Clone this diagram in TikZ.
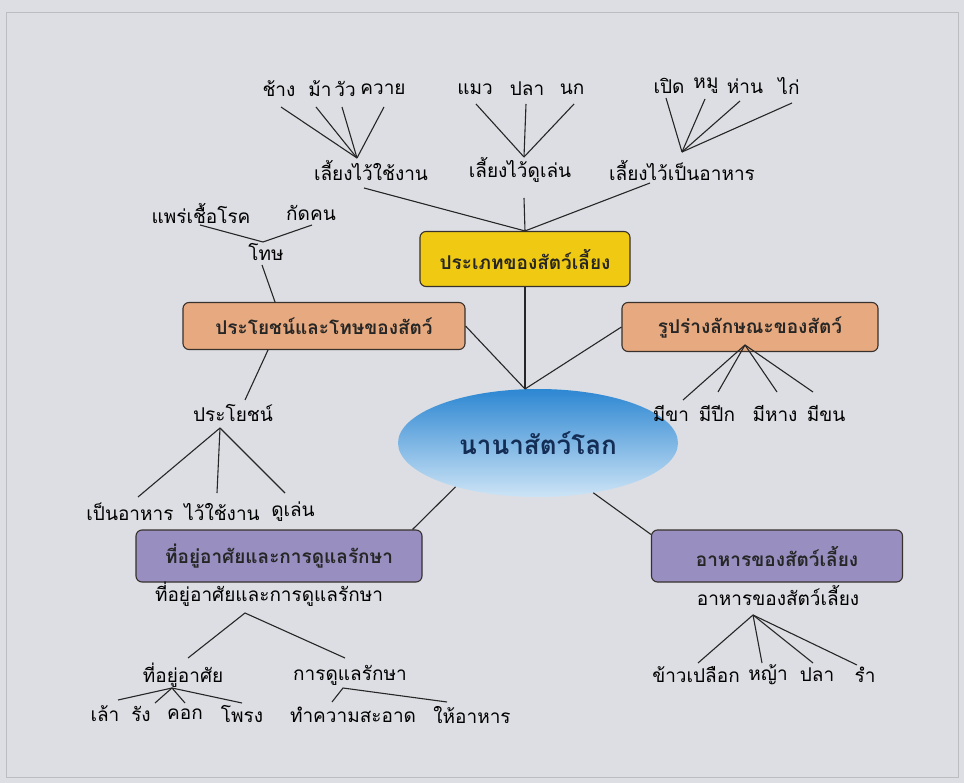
\documentclass[tikz,border=0pt]{standalone}
\usepackage{fontspec}
\newfontfamily\thai[Script=Thai]{Loma}
\usetikzlibrary{shapes.geometric,calc}
\definecolor{paper}{RGB}{221,222,227}
\definecolor{boxline}{RGB}{55,48,45}
\definecolor{gold}{RGB}{240,202,18}
\definecolor{peach}{RGB}{231,170,128}
\definecolor{lilac}{RGB}{152,143,192}
\definecolor{sky}{RGB}{45,135,210}
\definecolor{skylight}{RGB}{205,228,246}
\definecolor{navy}{RGB}{20,45,85}

\begin{document}
\begin{tikzpicture}[x=1pt,y=-1pt,
  font=\thai\fontsize{19}{22}\selectfont,
  every node/.style={inner sep=1pt},
  topic/.style={draw=boxline, rounded corners=6pt, line width=1.1pt,
    font=\thai\bfseries\fontsize{19}{22}\selectfont, text=black!85},
  link/.style={line width=1.1pt, black!85}]
  \fill[paper] (0,0) rectangle (964,783);
  \draw[paper!85!black, line width=0.6pt] (6,12) rectangle (958,777);

  % centre
  \node[ellipse, minimum width=280pt, minimum height=108pt, top color=sky, bottom color=skylight,
    font=\thai\bfseries\fontsize{26}{30}\selectfont, text=navy] (world) at (538,443) {นานาสัตว์โลก};
  \coordinate (hub) at (525,389);

  % topics
  \node[topic, fill=gold, minimum width=210pt, minimum height=55pt] (kinds) at (525,259) {ประเภทของสัตว์เลี้ยง};
  \node[topic, fill=peach, minimum width=282pt, minimum height=47pt] (useharm) at (324,326) {ประโยชน์และโทษของสัตว์};
  \node[topic, fill=peach, minimum width=256pt, minimum height=49pt] (shape) at (750,327) {รูปร่างลักษณะของสัตว์};
  \node[topic, fill=lilac, minimum width=286pt, minimum height=52pt] (home) at (279,556) {ที่อยู่อาศัยและการดูแลรักษา};
  \node[topic, fill=lilac, minimum width=251pt, minimum height=52pt] (food) at (777,556) {อาหารของสัตว์เลี้ยง};

  \draw[link] (kinds.south) -- (hub);
  \draw[link] (useharm.east) -- (hub);
  \draw[link] (shape.west) -- (hub);
  \draw[link] (world.208) -- ($(home.north east)+(-10,0)$);
  \draw[link] (world.-42) -- ($(food.north west)+(0,5)$);

  % kinds of pets
  \node (work) at (371,170) {เลี้ยงไว้ใช้งาน};
  \node (play) at (520,170) {เลี้ยงไว้ดูเล่น};
  \node (eat) at (682,170) {เลี้ยงไว้เป็นอาหาร};
  \draw[link] ($(work)+(-7,18)$) -- (kinds.north);
  \draw[link] ($(play)+(4,28)$) -- (kinds.north);
  \draw[link] ($(eat)+(-32,13)$) -- (kinds.north);

  \node (chang) at (279,89) {ช้าง};
  \node (ma) at (320,89) {ม้า};
  \node (wua) at (345,89) {วัว};
  \node (khwai) at (383,89) {ควาย};
  \coordinate (jwork) at (357,158);
  \foreach \n/\dx in {chang/2, ma/-4, wua/-3, khwai/1}
    \draw[link] ($(\n)+(\dx,18)$) -- (jwork);

  \node (maeo) at (475,89) {แมว};
  \node (pla) at (527,89) {ปลา};
  \node (nok) at (572,89) {นก};
  \coordinate (jplay) at (524,157);
  \foreach \n/\dx in {maeo/1, pla/-1, nok/2}
    \draw[link] ($(\n)+(\dx,15)$) -- (jplay);

  \node (pet) at (669,86) {เปิด};
  \node (mu) at (706,86) {หมู};
  \node (han) at (745,86) {ห่าน};
  \node (kai) at (789,86) {ไก่};
  \coordinate (jeat) at (682,152);
  \foreach \n/\dx/\dy in {pet/-3/12, mu/-1/13, han/-5/15, kai/3/17}
    \draw[link] ($(\n)+(\dx,\dy)$) -- (jeat);

  % benefits and harm
  \node (harm) at (266,252) {โทษ};
  \node (germ) at (201,213) {แพร่เชื้อโรค};
  \node (bite) at (311,213) {กัดคน};
  \coordinate (jharm) at (263,242);
  \draw[link] ($(germ)+(-1,12)$) -- (jharm) -- ($(bite)+(1,12)$);
  \draw[link] ($(harm)+(-4,13)$) -- (useharm.north -| 275,0);

  \node (good) at (233,413) {ประโยชน์};
  \coordinate (jgood) at (220,428);
  \draw[link] (useharm.south -| 268,0) -- ($(good)+(12,-13)$);
  \node (asfood) at (130,512) {เป็นอาหาร};
  \node (towork) at (222,512) {ไว้ใช้งาน};
  \node (toplay) at (293,512) {ดูเล่น};
  \draw[link] ($(asfood)+(8,-15)$) -- (jgood);
  \draw[link] ($(towork)+(-5,-19)$) -- (jgood);
  \draw[link] ($(toplay)+(-8,-19)$) -- (jgood);

  % body shape
  \coordinate (jshape) at (745,345);
  \node (legs) at (671,413) {มีขา};
  \node (wings) at (717,413) {มีปีก};
  \node (tail) at (775,413) {มีหาง};
  \node (fur) at (826,413) {มีขน};
  \foreach \n/\dx/\dy in {legs/12/-13, wings/1/-21, tail/2/-21, fur/-13/-21}
    \draw[link] ($(\n)+(\dx,\dy)$) -- (jshape);

  % habitat and care
  \node (homesub) at (269,594) {ที่อยู่อาศัยและการดูแลรักษา};
  \coordinate (jhome) at (245,613);
  \node (dwell) at (183,675) {ที่อยู่อาศัย};
  \node (care) at (350,675) {การดูแลรักษา};
  \draw[link] ($(dwell)+(5,-17)$) -- (jhome) -- ($(care)+(-5,-17)$);

  \coordinate (jdwell) at (172,688);
  \node (lao) at (105,714) {เล้า};
  \node (rang) at (141,714) {รัง};
  \node (khok) at (185,714) {คอก};
  \node (phrong) at (242,714) {โพรง};
  \foreach \n/\dx/\dy in {lao/13/-14, rang/14/-11, khok/0/-11, phrong/0/-11}
    \draw[link] ($(\n)+(\dx,\dy)$) -- (jdwell);

  \coordinate (jcare) at (343,688);
  \node (clean) at (353,715) {ทำความสะอาด};
  \node (feed) at (472,715) {ให้อาหาร};
  \draw[link] ($(clean)+(-21,-13)$) -- (jcare) -- ($(feed)+(-25,-13)$);

  % food
  \node (foodsub) at (778,595) {อาหารของสัตว์เลี้ยง};
  \coordinate (jfood) at (753,615);
  \node (rice) at (696,675) {ข้าวเปลือก};
  \node (grass) at (768,675) {หญ้า};
  \node (fish) at (817,675) {ปลา};
  \node (bran) at (865,675) {รำ};
  \foreach \n/\dx/\dy in {rice/2/-12, grass/-6/-12, fish/-4/-12, bran/-8/-10}
    \draw[link] ($(\n)+(\dx,\dy)$) -- (jfood);
\end{tikzpicture}
\end{document}
